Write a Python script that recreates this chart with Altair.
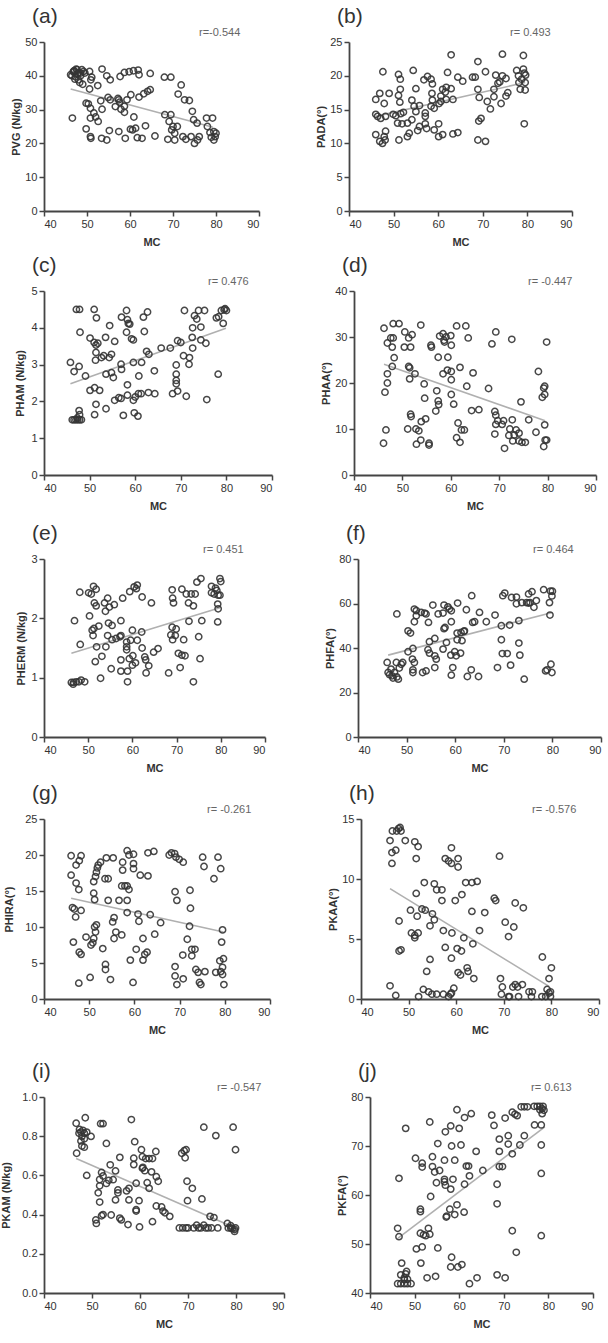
import altair as alt
import pandas as pd

FONT = "Liberation Sans"
X_TICKS = [40, 50, 60, 70, 80, 90]

# ---------------- (a) PVG ----------------
A_POINTS = [(46.6,27.5),(46.2,40.3),(47.0,41.3),(47.7,41.8),(48.5,40.8),(47.3,39.7),(48.0,38.8),(46.5,40.0),(47.0,41.5),
(47.5,42.0),(48.0,41.0),(48.5,40.0),(47.2,39.0),(48.3,38.0),(49.0,37.5),(47.8,40.5),(46.8,41.2),(48.8,41.8),(49.5,40.8),
(49.2,41.3),(50.6,41.3),(51.1,39.6),(50.9,38.8),(52.5,37.1),(50.6,36.1),(49.8,31.9),(50.3,31.7),(50.8,30.4),(51.6,29.0),
(50.8,27.5),(52.0,27.8),(52.6,26.5),(49.8,24.3),(50.8,22.0),(50.9,21.5),(53.5,42.0),(54.6,40.0),(55.4,38.8),(57.7,39.8),
(58.7,41.0),(59.8,41.2),(60.8,41.5),(61.9,41.7),(62.1,40.3),(64.7,40.7),(53.2,32.6),(54.9,33.6),(55.4,32.9),(57.2,33.3),
(57.4,32.9),(57.6,32.2),(59.3,32.9),(60.2,34.4),(62.1,33.7),(63.2,34.7),(64.1,35.4),(64.7,35.9),(53.5,30.1),(56.6,30.9),
(57.9,30.1),(58.7,29.2),(58.7,31.0),(60.9,27.8),(68.1,28.5),(69.5,28.5),(69.1,26.5),(70.0,25.0),(71.0,25.0),(71.2,34.6),
(71.9,37.3),(72.7,32.9),(73.8,32.7),(74.5,29.5),(74.8,27.0),(75.6,26.0),(68.0,39.6),(69.5,39.6),(57.4,23.5),(55.2,23.8),
(60.1,24.2),(60.6,24.0),(61.3,24.5),(63.6,25.2),(53.4,21.5),(54.6,21.0),(58.9,21.5),(61.7,21.7),(62.8,21.5),(65.8,22.2),
(68.8,21.2),(70.4,21.0),(72.3,22.0),(73.0,21.2),(74.2,22.0),(75.0,20.0),(75.7,21.0),(76.1,22.0),(70.4,23.0),(69.7,24.0),
(77.8,27.5),(79.2,27.5),(78.0,25.0),(79.5,23.5),(79.8,22.0),(79.5,21.0),(78.9,21.8),(78.6,23.2),(80.0,23.0)]
A_FIT = [(46.2,36.1),(79.3,24.8)]

# ---------------- (b) PADA ----------------
B_POINTS = [(46.0,16.5),(46.9,17.4),(47.9,15.9),(47.6,20.6),(49.0,17.4),(46.0,14.3),(46.4,14.0),(47.1,13.7),(48.2,14.0),
(46.0,11.3),(46.9,10.3),(47.5,10.0),(48.1,10.5),(48.2,11.8),(47.9,11.0),(49.9,14.3),(50.5,14.1),(51.6,14.4),(52.2,14.6),
(50.9,13.0),(51.9,12.9),(53.1,13.0),(54.1,13.5),(51.1,20.2),(51.5,19.5),(51.5,18.0),(51.1,17.1),(51.4,16.1),(54.1,16.4),
(54.4,20.8),(55.0,18.1),(54.6,15.5),(55.0,14.7),(51.2,10.5),(53.1,11.0),(53.5,11.5),(55.4,11.9),(55.8,12.5),(57.1,12.9),
(57.1,14.0),(57.1,14.5),(57.4,12.2),(55.8,15.6),(56.8,19.4),(57.6,19.9),(58.4,19.5),(58.7,18.8),(58.6,17.4),(58.7,16.4),
(58.4,15.5),(59.1,15.2),(59.1,12.0),(60.1,12.9),(60.1,11.0),(61.0,11.3),(60.2,15.9),(60.6,17.0),(61.0,18.0),(61.6,17.6),
(61.8,16.5),(60.6,16.2),(61.8,18.3),(62.9,18.1),(62.1,20.5),(62.9,23.1),(63.3,16.5),(63.3,11.4),(64.4,11.6),(64.4,19.8),
(65.5,19.2),(67.7,19.8),(68.3,19.8),(68.9,22.1),(68.9,18.0),(69.2,16.8),(69.1,13.3),(69.6,13.7),(68.9,10.5),(70.6,10.3),
(70.6,20.6),(71.0,16.2),(71.7,15.1),(72.5,16.9),(72.5,18.0),(72.9,20.1),(73.4,18.9),(73.8,19.1),(74.4,23.2),(74.4,20.0),
(75.2,19.6),(74.1,15.9),(75.6,17.5),(75.2,17.0),(77.6,20.8),(78.0,20.0),(78.1,19.0),(78.4,18.0),(78.7,19.5),(79.1,23.0),
(79.1,21.0),(79.3,20.4),(79.5,19.0),(79.6,20.1),(79.3,12.9),(79.5,17.9)]
B_FIT = [(46.0,14.0),(79.5,19.0)]

# ---------------- (c) PHAM ----------------
C_POINTS = [(47.1,4.5),(47.8,4.5),(47.9,3.88),(45.8,3.06),(46.6,2.81),(47.7,2.95),(49.1,2.69),(46.2,1.5),(46.6,1.5),
(47.0,1.5),(47.4,1.5),(47.8,1.5),(48.2,1.5),(47.3,1.55),(47.7,1.75),(47.8,1.64),(51.0,4.5),(51.5,4.27),(50.1,3.72),
(51.0,3.6),(51.4,3.53),(51.8,3.58),(51.4,3.33),(51.3,3.12),(52.6,3.19),(53.1,3.24),(53.5,3.74),(54.4,4.06),(54.3,3.19),
(54.8,3.28),(53.6,2.74),(54.8,2.78),(55.2,2.65),(55.5,3.63),(50.1,2.3),(51.1,2.37),(52.2,2.3),(51.4,1.92),(51.1,1.64),
(53.6,1.8),(55.5,2.03),(56.4,2.1),(56.9,2.08),(57.4,1.62),(56.9,3.01),(57.0,2.87),(57.0,4.29),(58.1,4.47),(58.3,4.22),
(58.5,4.12),(58.8,4.1),(58.1,3.88),(58.3,2.45),(58.3,2.17),(59.2,3.7),(59.6,3.67),(59.6,3.06),(59.6,2.03),(60.0,2.12),
(59.8,1.69),(60.6,1.6),(60.7,2.21),(61.3,2.21),(60.8,2.69),(61.4,3.06),(61.8,4.29),(62.7,4.43),(62.0,3.9),(62.5,3.36),
(63.0,3.28),(64.2,2.83),(64.3,2.21),(62.9,2.24),(65.7,3.45),(67.7,3.45),(68.2,2.21),(69.0,2.74),(69.0,2.57),(69.0,2.48),
(69.3,2.28),(69.0,2.99),(69.3,3.65),(70.0,3.6),(70.8,4.47),(70.6,3.24),(71.2,2.14),(71.9,3.19),(71.8,3.01),(72.5,3.74),
(72.6,4.0),(72.6,3.45),(73.0,4.33),(73.5,4.24),(73.9,4.47),(74.4,4.02),(74.4,3.67),(75.2,4.47),(75.5,3.58),(75.7,2.05),
(77.8,4.27),(78.2,2.74),(78.9,4.47),(79.5,4.49),(80.0,4.47),(79.3,4.12),(79.7,4.52),(78.3,4.3)]
C_FIT = [(45.8,2.48),(79.9,3.99)]

# ---------------- (d) PHAA ----------------
D_POINTS = [(46.2,31.9),(48.1,32.9),(49.3,32.9),(47.6,29.8),(48.1,29.8),(46.9,28.7),(47.9,27.8),(48.3,25.5),(47.9,23.6),
(46.9,22.0),(46.9,20.0),(46.4,18.0),(46.6,9.8),(46.1,6.9),(50.5,31.1),(50.4,27.8),(51.3,29.8),(51.7,27.8),(52.0,30.5),
(51.3,23.6),(51.5,23.3),(51.5,20.9),(52.6,22.0),(53.8,32.6),(51.7,13.2),(51.8,12.7),(51.1,10.0),(52.8,10.0),(53.4,9.6),
(53.9,11.6),(54.8,12.2),(53.8,7.6),(52.9,6.7),(54.5,19.8),(54.6,16.7),(55.5,6.9),(55.5,6.5),(55.9,28.2),(56.0,27.8),
(57.4,25.6),(57.1,18.3),(57.4,16.1),(57.5,15.3),(56.9,13.9),(57.7,30.2),(58.4,30.7),(58.6,29.3),(58.7,28.9),(59.0,30.0),
(59.4,25.6),(59.3,22.8),(58.4,22.0),(60.0,30.3),(60.1,28.2),(60.1,22.5),(60.1,20.7),(60.1,17.5),(60.6,15.4),(61.2,32.4),
(61.5,11.3),(62.2,9.8),(62.8,9.8),(61.2,8.1),(61.9,7.1),(61.9,23.4),(63.1,32.4),(63.6,29.8),(63.3,19.3),(64.3,14.0),
(64.6,22.2),(65.8,14.2),(67.8,18.8),(68.5,28.5),(69.3,31.1),(69.1,13.8),(69.3,13.0),(69.3,11.0),(69.1,8.9),(69.7,11.8),
(70.6,11.0),(71.1,5.8),(70.9,11.8),(72.6,29.5),(72.7,12.0),(72.2,10.0),(72.0,8.6),(73.1,8.7),(73.5,9.8),(74.1,9.1),
(72.8,7.4),(74.1,7.4),(74.7,7.1),(75.4,7.1),(74.5,15.9),(76.1,12.0),(77.6,9.3),(78.1,22.5),(78.9,16.9),(79.2,18.9),
(79.4,19.3),(79.4,17.5),(79.4,10.9),(79.8,28.9),(79.5,7.6),(79.2,6.2),(79.8,7.6)]
D_FIT = [(46.2,24.1),(79.5,11.8)]

# ---------------- (e) PHERM ----------------
E_POINTS = [(46.9,1.96),(48.1,2.44),(48.2,1.56),(46.2,0.92),(46.7,0.92),(47.3,0.93),(47.9,0.93),(48.4,0.96),(49.2,0.93),
(46.6,0.89),(50.1,2.43),(50.7,2.41),(51.2,2.54),(51.8,2.49),(51.4,2.26),(51.8,2.21),(50.3,2.04),(50.9,1.8),(51.3,1.83),
(52.4,1.87),(51.1,1.71),(51.9,1.52),(51.6,1.27),(53.1,1.36),(52.8,0.99),(53.7,2.26),(54.4,2.34),(53.9,2.12),(54.8,2.19),
(55.9,2.23),(54.6,1.92),(55.4,1.88),(54.0,1.52),(54.4,1.71),(55.4,1.64),(55.2,1.15),(56.3,1.66),(57.2,1.69),(57.4,1.71),
(57.4,1.96),(57.8,2.34),(57.4,1.3),(57.4,1.11),(58.7,1.52),(58.7,1.47),(58.7,1.6),(58.9,1.11),(59.3,1.32),(58.9,0.93),
(59.6,1.63),(59.4,2.45),(60.0,1.8),(60.4,2.53),(60.9,2.5),(61.1,2.56),(60.1,1.37),(60.0,1.21),(60.7,1.25),(61.1,1.63),
(62.1,1.77),(62.2,1.5),(62.2,2.36),(62.8,1.35),(63.0,1.3),(63.1,1.08),(63.7,1.2),(64.3,2.26),(64.8,1.43),(65.8,1.49),
(68.7,1.72),(68.2,1.08),(69.0,2.48),(69.1,2.34),(69.3,2.26),(69.0,1.85),(69.1,1.64),(69.7,1.71),(69.9,1.82),(70.4,1.41),
(71.2,1.38),(71.2,2.49),(71.6,1.64),(71.9,1.37),(70.8,1.17),(72.2,2.41),(72.7,2.26),(72.8,1.95),(73.3,2.41),(73.8,2.21),
(74.2,2.41),(74.6,2.61),(75.0,1.69),(75.3,1.32),(73.8,0.93),(75.5,2.67),(75.7,1.96),(77.9,2.54),(77.9,2.43),(78.5,2.41),
(79.1,2.47),(79.8,2.67),(80.0,2.62),(79.4,2.39),(79.3,2.24),(79.4,2.16),(79.3,1.94),(79.8,2.39),(78.8,2.51)]
E_FIT = [(46.2,1.41),(79.8,2.18)]

# ---------------- (f) PHFA ----------------
F_POINTS = [(46.0,33.5),(46.2,29.0),(46.5,28.0),(47.0,27.5),(47.5,29.0),(48.0,27.0),(47.2,26.5),(48.3,26.0),(46.8,30.5),
(48.5,31.0),(47.9,33.5),(48.9,32.7),(49.2,33.5),(48.0,55.3),(50.3,47.7),(50.8,46.7),(50.3,38.3),(51.3,39.8),(51.2,35.0),
(51.6,33.5),(51.3,30.2),(51.3,29.0),(51.6,57.5),(52.0,56.8),(52.0,54.5),(51.6,51.8),(53.0,56.0),(53.7,55.7),(54.0,55.3),
(53.3,29.0),(54.0,29.7),(54.5,51.5),(54.7,42.8),(54.4,39.2),(54.7,37.7),(55.4,59.3),(55.8,44.3),(55.8,36.5),(56.1,35.0),
(55.8,31.2),(56.5,55.3),(57.5,55.7),(57.7,59.3),(58.2,42.5),(57.9,49.2),(57.5,39.5),(57.7,48.7),(58.8,57.5),(59.2,56.7),
(58.5,58.5),(59.2,51.8),(59.1,36.8),(59.2,27.8),(59.5,31.2),(60.2,36.5),(59.9,38.3),(60.5,60.2),(60.4,46.7),(60.4,43.7),
(61.1,37.7),(61.2,47.0),(61.8,47.4),(61.9,47.7),(62.3,57.2),(61.4,43.3),(62.5,27.2),(63.3,30.2),(63.4,63.5),(63.6,51.5),
(64.0,51.8),(65.0,56.0),(64.8,27.2),(66.4,51.8),(68.2,54.8),(68.7,31.2),(69.5,50.0),(69.5,43.7),(69.7,37.5),(69.8,63.5),
(70.2,64.7),(70.7,37.5),(71.2,50.3),(71.4,32.3),(71.6,62.7),(72.6,62.9),(72.6,59.9),(73.1,52.3),(73.1,42.2),(73.3,36.8),
(73.7,60.4),(74.2,26.0),(74.7,60.4),(75.1,60.2),(75.1,64.3),(75.4,60.4),(75.8,65.3),(76.2,58.3),(76.7,61.3),(78.2,66.2),
(78.6,29.7),(78.9,30.2),(79.4,60.4),(79.9,63.4),(80.0,65.5),(79.5,54.8),(79.7,32.7),(79.9,29.0),(79.6,65.6)]
F_FIT = [(46.2,36.8),(80.0,56.0)]

# ---------------- (g) PHIRA ----------------
G_POINTS = [(46.0,19.9),(46.0,17.2),(47.1,16.1),(47.7,15.2),(47.1,18.6),(47.8,19.2),(48.2,19.9),(46.3,12.7),(46.7,12.5),
(47.0,11.4),(48.2,12.3),(46.5,7.9),(47.8,6.5),(48.2,6.2),(47.7,2.2),(49.3,8.6),(50.4,7.5),(50.2,3.0),(50.8,7.8),(51.0,8.4),
(51.4,9.3),(51.2,10.0),(51.6,10.3),(51.0,14.7),(51.2,13.8),(51.0,16.3),(51.4,17.0),(51.6,17.6),(51.8,18.2),(52.0,18.6),
(52.5,19.0),(53.0,7.0),(53.5,16.7),(54.2,16.7),(53.8,19.6),(55.3,19.6),(53.6,4.8),(53.6,4.1),(54.2,13.7),(54.7,2.7),
(55.2,10.7),(55.5,11.3),(55.5,8.4),(55.9,9.3),(57.2,8.9),(57.4,19.0),(57.4,17.9),(57.2,15.7),(57.9,15.7),(58.4,15.7),
(56.6,13.7),(58.4,13.7),(58.8,15.2),(58.4,12.0),(58.4,20.6),(58.8,20.0),(59.8,20.1),(59.1,5.4),(59.7,2.3),(59.8,18.8),
(59.8,18.1),(60.8,11.8),(61.0,10.8),(61.3,17.2),(60.4,6.9),(61.9,8.4),(61.9,5.4),(62.3,6.2),(62.8,6.5),(63.0,17.1),
(63.0,20.3),(63.5,11.7),(64.3,20.5),(64.5,9.0),(65.8,10.6),(67.7,20.0),(68.2,20.3),(68.9,20.2),(69.2,19.7),(69.9,19.4),
(70.8,19.0),(69.0,14.9),(69.4,13.7),(69.0,4.5),(69.0,3.2),(69.4,2.0),(70.7,6.1),(70.8,2.8),(72.2,10.1),(71.7,8.3),
(72.4,12.6),(72.3,15.1),(72.7,6.9),(72.7,6.0),(73.4,6.9),(73.6,4.1),(74.1,3.7),(74.4,2.3),(74.7,2.0),(75.1,19.7),
(75.4,18.4),(75.6,3.8),(77.6,16.7),(78.0,3.7),(78.5,19.7),(78.9,5.3),(79.1,18.1),(79.3,7.9),(79.5,9.6),(79.7,5.6),
(79.5,4.4),(79.5,3.4),(79.8,2.0),(79.1,3.8)]
G_FIT = [(46.0,14.0),(79.7,9.3)]

# ---------------- (h) PKAA ----------------
H_POINTS = [(46.1,13.2),(46.5,12.2),(46.5,11.3),(47.3,12.4),(46.6,14.0),(47.5,14.0),(47.9,14.2),(48.2,14.3),(48.4,14.0),
(49.3,13.2),(46.1,1.1),(47.3,0.3),(48.0,6.5),(48.0,4.0),(48.4,4.1),(50.4,7.4),(51.3,13.1),(52.0,12.7),(51.6,11.7),
(51.6,8.8),(51.8,6.9),(50.6,5.5),(51.3,5.3),(51.3,5.1),(52.0,5.5),(52.1,0.2),(52.8,7.5),(53.3,9.7),(53.5,7.4),(53.8,2.3),
(53.1,0.8),(54.2,0.6),(54.5,3.3),(55.0,7.1),(54.5,6.1),(55.4,6.6),(55.4,9.6),(55.9,9.1),(54.9,0.4),(55.9,0.4),(57.0,9.1),
(57.3,0.4),(57.0,8.2),(57.3,5.7),(57.7,11.7),(57.7,4.3),(58.4,0.2),(58.8,0.4),(58.4,11.5),(59.0,11.3),(59.0,12.6),
(59.1,5.5),(59.0,3.4),(59.5,0.9),(59.0,0.5),(59.8,8.2),(60.4,11.7),(60.4,11.0),(60.2,4.2),(60.4,2.2),(60.9,2.0),(61.1,4.0),
(61.2,8.7),(61.6,5.1),(62.0,9.7),(62.3,2.6),(62.5,2.3),(63.3,9.7),(63.3,7.3),(63.5,4.6),(63.7,1.7),(64.4,9.8),(64.9,5.7),
(66.0,7.2),(68.0,8.4),(68.3,8.2),(69.1,11.9),(69.3,1.7),(69.7,1.0),(69.5,0.4),(70.3,6.4),(71.0,0.2),(71.0,5.2),(71.2,0.2),
(72.1,6.0),(72.4,8.0),(71.9,1.0),(72.4,1.2),(72.9,1.0),(73.9,1.2),(73.1,0.2),(74.1,7.6),(75.3,0.6),(75.8,0.2),(76.0,0.6),
(78.1,3.5),(78.8,0.2),(79.1,0.8),(79.5,1.7),(80.0,2.6),(79.8,0.2),(79.5,0.5),(79.8,0.6),(78.0,0.2)]
H_FIT = [(46.1,9.2),(79.5,1.05)]

# ---------------- (i) PKAM ----------------
I_POINTS = [(46.7,0.866),(46.8,0.713),(47.4,0.834),(47.7,0.821),(48.1,0.83),(48.4,0.815),(48.9,0.821),(47.9,0.799),
(48.4,0.787),(47.9,0.75),(48.4,0.744),(48.6,0.894),(47.7,0.776),(48.9,0.6),(49.8,0.799),(47.3,0.815),(50.8,0.373),
(50.9,0.355),(51.3,0.511),(51.6,0.547),(51.6,0.579),(52.0,0.615),(51.6,0.464),(52.0,0.394),(52.3,0.4),(51.8,0.864),
(52.3,0.864),(53.0,0.763),(52.3,0.597),(53.0,0.559),(53.5,0.575),(53.8,0.654),(54.0,0.398),(54.4,0.578),(54.9,0.623),
(54.9,0.475),(55.8,0.692),(55.4,0.511),(55.4,0.526),(55.8,0.382),(56.1,0.373),(57.2,0.521),(57.7,0.534),(57.7,0.475),
(57.5,0.349),(58.2,0.885),(58.9,0.772),(58.7,0.655),(58.7,0.688),(59.2,0.425),(59.2,0.418),(59.2,0.56),(59.8,0.471),
(59.9,0.337),(60.3,0.731),(60.5,0.695),(60.5,0.636),(61.0,0.624),(60.6,0.641),(61.2,0.686),(61.9,0.686),(62.6,0.686),
(61.5,0.563),(61.9,0.534),(62.4,0.618),(62.6,0.364),(63.3,0.722),(63.4,0.593),(63.8,0.57),(63.4,0.444),(64.5,0.439),
(64.8,0.418),(65.2,0.409),(66.2,0.391),(68.2,0.332),(68.7,0.713),(69.2,0.726),(69.4,0.69),(69.6,0.731),(69.8,0.57),
(69.9,0.471),(68.9,0.332),(69.6,0.332),(70.0,0.332),(70.9,0.534),(71.2,0.332),(71.8,0.346),(72.2,0.332),(72.7,0.332),
(72.9,0.48),(73.3,0.846),(73.3,0.346),(73.7,0.332),(74.2,0.332),(74.9,0.332),(74.6,0.391),(75.4,0.385),(75.8,0.803),
(76.2,0.332),(78.2,0.355),(78.4,0.332),(78.9,0.332),(79.4,0.846),(79.9,0.731),(79.2,0.328),(79.7,0.324),(79.7,0.314),
(79.9,0.332),(78.9,0.343)]
I_FIT = [(46.7,0.686),(80.0,0.33)]

# ---------------- (j) PKFA ----------------
J_POINTS = [(46.2,53.2),(46.5,51.5),(46.5,63.4),(48.0,73.6),(47.1,46.1),(46.9,43.7),(47.7,43.1),(48.0,43.9),(48.2,44.4),
(46.2,41.9),(46.9,41.9),(47.7,41.9),(48.4,41.9),(49.2,41.9),(47.7,42.7),(48.4,42.8),(50.2,67.5),(50.4,49.0),(51.3,57.1),
(51.3,56.6),(51.3,52.2),(51.4,46.1),(51.7,66.5),(51.7,65.7),(52.0,51.9),(51.7,49.4),(52.5,51.7),(52.8,43.1),(53.1,53.2),
(53.4,52.0),(53.4,74.9),(53.6,59.7),(54.0,67.8),(54.0,65.8),(54.5,64.7),(54.9,62.5),(55.2,70.5),(55.2,49.2),(54.7,43.4),
(55.6,65.0),(56.7,67.1),(56.7,63.2),(56.7,62.7),(56.9,62.0),(56.9,72.9),(57.1,55.5),(57.2,55.7),(58.1,74.1),(58.1,61.2),
(57.9,57.1),(58.3,70.0),(58.3,47.3),(58.6,63.2),(58.1,45.3),(59.0,67.1),(59.0,56.0),(59.5,77.4),(59.5,58.0),(59.7,45.3),
(60.0,73.6),(60.4,70.2),(60.6,45.8),(61.2,62.2),(61.1,56.5),(61.2,75.8),(61.6,65.9),(62.1,65.9),(62.3,63.9),(62.7,76.6),
(62.3,41.9),(63.8,68.9),(64.0,43.1),(65.3,65.0),(67.3,76.3),(67.8,74.2),(68.5,62.2),(68.5,58.2),(68.5,43.7),(69.0,71.4),
(69.0,68.9),(69.0,65.8),(69.7,65.8),(70.3,75.7),(70.3,43.1),(71.0,72.1),(71.0,70.4),(71.9,52.7),(71.9,68.4),(71.9,76.9),
(72.5,76.5),(72.8,48.3),(73.0,76.2),(73.6,70.2),(73.9,78.0),(74.6,78.0),(74.6,72.1),(75.3,78.0),(76.9,74.3),(76.8,78.1),
(77.5,78.1),(78.1,78.1),(78.1,77.4),(78.4,74.3),(78.4,70.2),(78.4,64.4),(78.4,51.7),(78.6,77.6),(78.6,76.6),(78.8,78.1),
(79.0,77.3)]
J_FIT = [(46.3,51.2),(79.2,73.9)]

# label, points, fit, y title, r text, y domain, y ticks, y format, width, height, y-title padding
PANELS = [
    ("(a)", A_POINTS, A_FIT, "PVG (N/kg)", "r=-0.544", [0, 50], [0, 10, 20, 30, 40, 50], "d", 215, 169, 3),
    ("(b)", B_POINTS, B_FIT, "PADA(°)", "r= 0.493", [0, 25], [0, 5, 10, 15, 20, 25], "d", 223, 169, 3),
    ("(c)", C_POINTS, C_FIT, "PHAM (N/kg)", "r= 0.476", [0, 5], [0, 1, 2, 3, 4, 5], "d", 228, 184, 5),
    ("(d)", D_POINTS, D_FIT, "PHAA(°)", "r= -0.447", [0, 40], [0, 10, 20, 30, 40], "d", 242, 184, 3),
    ("(e)", E_POINTS, E_FIT, "PHERM (N/kg)", "r= 0.451", [0, 3], [0, 1, 2, 3], "d", 221, 178, 4),
    ("(f)", F_POINTS, F_FIT, "PHFA(°)", "r= 0.464", [0, 80], [0, 20, 40, 60, 80], "d", 243, 178, 3),
    ("(g)", G_POINTS, G_FIT, "PHIRA(°)", "r= -0.261", [0, 25], [0, 5, 10, 15, 20, 25], "d", 226, 180, 10),
    ("(h)", H_POINTS, H_FIT, "PKAA(°)", "r= -0.576", [0, 15], [0, 5, 10, 15], "d", 238, 180, 3),
    ("(i)", I_POINTS, I_FIT, "PKAM (N/kg)", "r= -0.547", [0, 1], [0, 0.2, 0.4, 0.6, 0.8, 1.0], ".1f", 240, 196, 10),
    ("(j)", J_POINTS, J_FIT, "PKFA(°)", "r= 0.613", [40, 80], [40, 50, 60, 70, 80], "d", 223, 196, 3),
]
COL_SPACING = [55, 47, 58, 56, 51]
ROW_GAPS = [8, 12, 10, 26]


def panel(label, pts, fit, ytitle, rtxt, ydom, yticks, yfmt, w, h, ypad):
    pdf = pd.DataFrame(pts, columns=["MC", "V"])
    fdf = pd.DataFrame(fit, columns=["MC", "V"])
    xs = alt.Scale(domain=[40, 90], nice=False, zero=False)
    ys = alt.Scale(domain=ydom, nice=False, zero=False)
    xenc = alt.X("MC:Q", scale=xs, axis=alt.Axis(values=X_TICKS, title="MC", titlePadding=7))
    yenc = alt.Y("V:Q", scale=ys, axis=alt.Axis(values=yticks, title=ytitle, format=yfmt, titlePadding=ypad))
    line = alt.Chart(fdf).mark_line(color="#b0b0b0", strokeWidth=1.6).encode(x=xenc, y=yenc)
    dots = alt.Chart(pdf).mark_point(shape="circle", filled=False, size=40,
                                     color="#353535", strokeWidth=1.5, opacity=0.9).encode(x=xenc, y=yenc)
    rdf = pd.DataFrame({"t": [rtxt]})
    rmark = alt.Chart(rdf).mark_text(align="left", baseline="middle", fontSize=11, font=FONT,
                                     color="#666666").encode(x=alt.value(round(w * 0.72)), y=alt.value(-9), text="t:N")
    return alt.layer(line, dots, rmark).properties(
        width=w, height=h,
        title=alt.TitleParams(label, anchor="start", frame="group", fontSize=21, fontWeight="normal",
                              font=FONT, color="#333333", dx=-12, offset=0),
    )


charts = [panel(*p) for p in PANELS]
rows = [alt.hconcat(charts[2 * k], charts[2 * k + 1], spacing=COL_SPACING[k]) for k in range(5)]
stack = rows[0]
for k in range(1, 5):
    stack = alt.vconcat(stack, rows[k], spacing=ROW_GAPS[k - 1])

chart = stack.configure_view(stroke=None).configure_axis(
    grid=False,
    domainColor="#444444", domainWidth=1.8,
    tickColor="#444444", tickWidth=1.5, tickSize=5,
    labelFont=FONT, labelFontSize=11, labelColor="#333333", labelPadding=2,
    titleFont=FONT, titleFontSize=11, titleFontWeight="bold", titleColor="#333333",
).properties(padding={"left": 0, "top": 6, "right": 5, "bottom": 5})

chart.save("out.html", embed_options={"renderer": "svg", "actions": False})
